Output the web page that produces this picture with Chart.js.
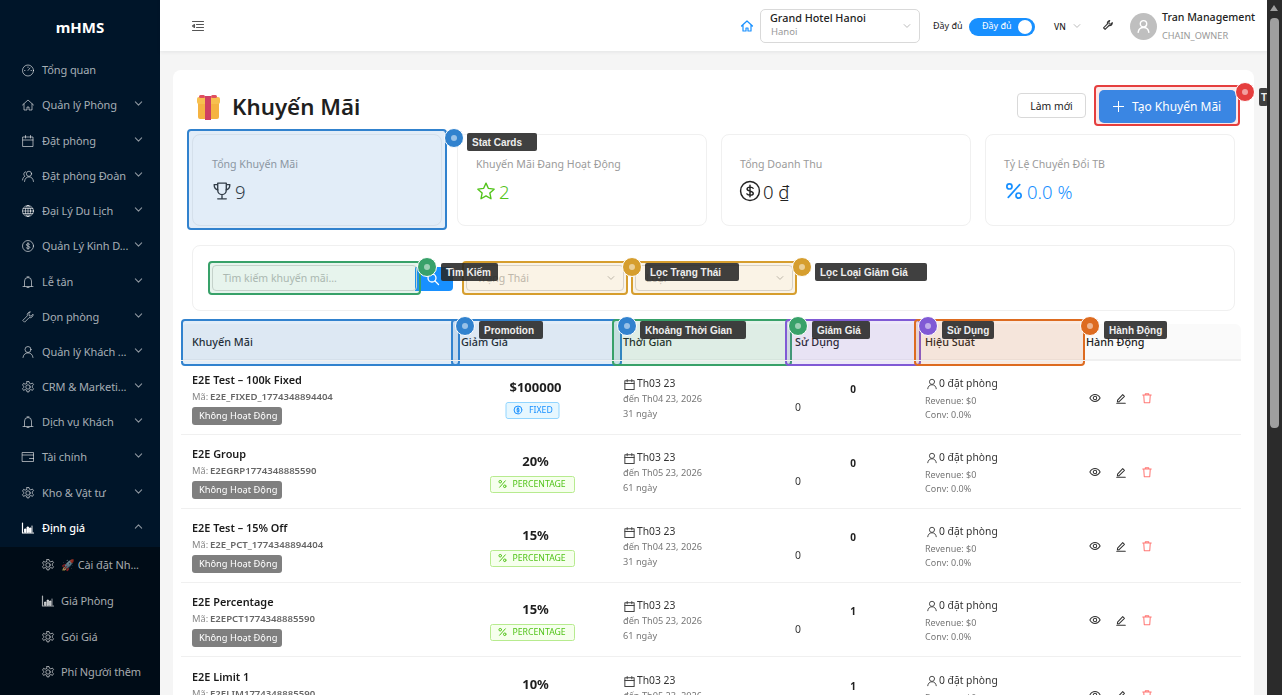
<!DOCTYPE html>
<html>
<head>
<meta charset="utf-8">
<title>Khuyến Mãi</title>
<script src="https://cdn.jsdelivr.net/npm/chart.js@4/dist/chart.umd.js"></script>
<style>
html,body{margin:0;padding:0;width:1282px;height:695px;overflow:hidden;background:#f5f5f5;font-family:"Noto Sans",sans-serif;color:#222}
div,span{position:absolute;box-sizing:border-box;white-space:nowrap}
svg{position:absolute;fill:none;stroke:currentColor;stroke-width:1.1;stroke-linecap:round;stroke-linejoin:round}
#side{left:0;top:0;width:160px;height:695px;background:#001529}
#sub{left:0;top:547px;width:160px;height:148px;background:#000c17}
.logo{left:0;width:160px;top:17px;text-align:center;color:#fff;font-weight:700;font-size:15px;line-height:20px}
.mi{font-size:11px;line-height:16px;letter-spacing:-.1px}
#head{left:160px;top:0;width:1108px;height:51px;background:#fff;box-shadow:0 1px 4px rgba(0,21,41,.08)}
#card{left:173px;top:70px;width:1081px;height:640px;background:#fff;border-radius:8px}
.stat{top:134px;width:250px;height:92px;background:#fff;border:1px solid #f0f0f0;border-radius:8px}
.sl{top:156px;font-size:10.6px;line-height:16px;color:#9a9a9a}
.sv{top:180px;font-size:18.5px;line-height:24px;font-weight:300}
.hl{border-radius:4px;border:2px solid}
.dot{width:20px;height:20px;border-radius:50%;border:1px solid #fff}
.dot::after{content:"";position:absolute;left:6px;top:6px;width:6px;height:6px;border-radius:50%;background:rgba(255,255,255,.5)}
.tip{height:18px;background:rgba(38,38,38,.88);border-radius:2px;color:#eee;font:700 10px/20px "Liberation Sans",sans-serif;padding-left:5px;overflow:hidden}
.th{top:335px;font-size:10.8px;line-height:14px;color:#222;font-weight:500}
.flt{top:265px;height:26px;border:1px solid #d9d9d9;border-radius:4px;font-size:10.5px;line-height:25px;padding-left:10px;color:#bbb}
</style>
</head>
<body>
<div id="side"><div id="sub"></div><div class="logo">mHMS</div></div>
<div id="head"></div>
<div id="card"></div>
<div id="page"></div>
<canvas id="table" width="1060" height="371" style="position:absolute;left:181px;top:360px"></canvas>
<script>
// sidebar
const menuLabels = ['Tổng quan','Quản lý Phòng','Đặt phòng','Đặt phòng Đoàn','Đại Lý Du Lịch','Quản Lý Kinh D...','Lễ tân','Dọn phòng','Quản lý Khách ...','CRM & Marketi...','Dịch vụ Khách','Tài chính','Kho & Vật tư','Định giá'];
const menuIcons = ['gauge','home','cal','team','globe','dollar','bell','tool','user','gear','bell','wallet','gear','chart'];
const subLabels = ['🚀 Cài đặt Nh...','Giá Phòng','Gói Giá','Phí Người thêm'];
const subIcons = ['gear','chart','gear','gear'];

// stat cards
const statLabels = ['Tổng Khuyến Mãi','Khuyến Mãi Đang Hoạt Động','Tổng Doanh Thu','Tỷ Lệ Chuyển Đổi TB'];
const statValues = ['9','2','0 ₫','0.0 %'];

// table
const columns = ['Khuyến Mãi','Giảm Giá','Thời Gian','Sử Dụng','Hiệu Suất','Hành Động'];
const promoNames = ['E2E Test – 100k Fixed','E2E Group','E2E Test – 15% Off','E2E Percentage','E2E Limit 1'];
const promoCodes = ['E2E_FIXED_1774348894404','E2EGRP1774348885590','E2E_PCT_1774348894404','E2EPCT1774348885590','E2ELIM1774348885590'];
const promoStatus = ['Không Hoạt Động','Không Hoạt Động','Không Hoạt Động','Không Hoạt Động','Không Hoạt Động'];
const discountLabels = ['$100000','20%','15%','15%','10%'];
const discountTypes = ['FIXED','PERCENTAGE','PERCENTAGE','PERCENTAGE','PERCENTAGE'];
const startDates = ['Th03 23','Th03 23','Th03 23','Th03 23','Th03 23'];
const endDates = ['Th04 23, 2026','Th05 23, 2026','Th04 23, 2026','Th05 23, 2026','Th05 23, 2026'];
const dayCounts = [31,61,31,61,61];
const usedCounts = [0,0,0,0,0];
const usageLimits = [0,0,0,1,1];
const bookings = [0,0,0,0,0];
const revenues = [0,0,0,0,0];
const convRates = [0,0,0,0,0];

const page = document.getElementById('page');
const I = {
 gauge:'<circle cx="7" cy="7.5" r="5.5"/><path d="M7 7.500l2-2.500M3.500 7.500h.5M10 7.500h.5M7 4v.5"/>',
 home:'<path d="M1.500 7L7 2l5.500 5M3 6v6h3V9h2v3h3V6"/>',
 cal:'<rect x="2" y="3" width="10" height="9.5"/><path d="M2 6h10M4.500 1.500V4M9.500 1.500V4"/>',
 team:'<circle cx="8" cy="4.800" r="2.600"/><path d="M3.500 12.500c.3-3 2-4.600 4.500-4.600s4.200 1.600 4.500 4.600M4.600 2.800A2.400 2.400 0 0 0 4 7.200C2.600 8 1.800 9 1.500 11"/>',
 globe:'<circle cx="7" cy="7" r="5.5"/><path d="M1.500 7h11M2.200 4.500h9.600M2.200 9.500h9.600M7 1.500v11"/><ellipse cx="7" cy="7" rx="2.600" ry="5.500"/>',
 dollar:'<circle cx="7" cy="7" r="5.5"/><path d="M8.800 5.400C8.400 4.600 5.400 4.300 5.300 5.800c0 1.600 3.600.9 3.600 2.600 0 1.400-3 1.200-3.700.3M7 3.600v6.800"/>',
 bell:'<path d="M3.500 11V6a3.500 3.500 0 0 1 7 0v5M2 11.500h10M6 1.800h2M6 12.500h2"/>',
 tool:'<path d="M9 1.800a3 3 0 0 0-2.600 4L1.800 10.400 3.600 12.200 8.200 7.600A3 3 0 0 0 12 4.200L10.200 6 8.200 5.800 8 3.800z"/>',
 user:'<circle cx="7" cy="4.500" r="3"/><path d="M2 12.500c.4-3 2.400-4.600 5-4.600s4.600 1.600 5 4.600"/>',
 gear:'<circle cx="7" cy="7" r="2.200"/><path d="M6 1.500h2l.4 1.700 1.500.7 1.500-.9 1.100 1.700-1.200 1.200v1.600l1.200 1.200-1.100 1.700-1.500-.9-1.500.7-.4 1.700H6l-.4-1.700-1.500-.7-1.500.9-1.100-1.700 1.200-1.200V6.200L1.500 5l1.100-1.700 1.500.9 1.500-.7z"/>',
 wallet:'<rect x="1.500" y="2.500" width="11" height="9"/><path d="M1.500 5h11M8.500 8.500h4"/>',
 chart:'<path d="M1.500 2v10h11" stroke-width="1.200"/><path d="M3.500 11V8h1.500v3zM6 11V6h1.500v5zM8.500 11V7H10v4zM11 11V5" fill="currentColor"/>',
 chev:'<path d="M3 5l4 4 4-4" stroke-width="1.400"/>',
 chevUp:'<path d="M3 9l4-4 4 4" stroke-width="1.400"/>',
 trophy:'<path d="M4 1.500h6v5a3 3 0 0 1-6 0zM4 2.500H1.500c0 2 .8 3.500 2.800 3.800M10 2.500h2.500c0 2-.8 3.500-2.800 3.800M7 9.500v3M4 12.500h6"/>',
 star:'<path d="M7 1.500l1.700 3.700 4 .5-3 2.700.8 4L7 10.400l-3.500 2 .8-4-3-2.700 4-.5z"/>',
 pct:'<path d="M11 2.500L3 11.500"/><circle cx="3.800" cy="3.800" r="1.800"/><circle cx="10.200" cy="10.200" r="1.800"/>',
 menu:'<path d="M1.500 2.500h11M5.500 5.500h7M5.500 8.500h7M1.500 11.500h11"/><path d="M3.500 5.500L1.500 7l2 1.500z"/>',
 search:'<circle cx="6" cy="6" r="4"/><path d="M9 9l3.500 3.500"/>',
 eye:'<path d="M1 7c1.500-2.700 3.500-4 6-4s4.500 1.300 6 4c-1.500 2.700-3.500 4-6 4s-4.500-1.300-6-4z"/><circle cx="7" cy="7" r="2"/>',
 pen:'<path d="M3 9.500L9 3l2 2-6.200 6.300-2 .2zM2 13h10"/>',
 trash:'<path d="M2 3.500h10M5 3.500V2h4v1.500M3.200 3.500l.6 9h6.400l.6-9"/>',
};
function icon(name,x,y,size,color,sw){
 const s=document.createElementNS('http://www.w3.org/2000/svg','svg');
 s.setAttribute('viewBox','0 0 14 14');s.setAttribute('width',size);s.setAttribute('height',size);
 s.style.left=x+'px';s.style.top=y+'px';s.style.color=color;if(sw)s.style.strokeWidth=sw;
 s.innerHTML=I[name];page.appendChild(s);
}
function box(cls,style,text){
 const d=document.createElement('div');d.className=cls;d.style.cssText=style;if(text)d.textContent=text;page.appendChild(d);return d;
}
const sideColor='rgba(255,255,255,.66)';
const menuY=[70,105,141,176,211,246,282,317,352,387,422,457,493,528];
menuLabels.forEach((t,i)=>{
 const active=t==='Định giá';
 const c=active?'#fff':sideColor;
 icon(menuIcons[i],21,menuY[i]-7,14,c,.9);
 box('mi',`left:42px;top:${menuY[i]-8}px;color:${c};`+(active?'font-weight:500;':''),t);
 if(i>0)icon(active?'chevUp':'chev',133,menuY[i]-7,11,'rgba(255,255,255,.55)');
});
const subY=[565,601,637,672];
subLabels.forEach((t,i)=>{
 icon(subIcons[i],41,subY[i]-7,14,sideColor,.9);
 box('mi',`left:61px;top:${subY[i]-8}px;color:${sideColor};`,t);
});

// header
icon('menu',191,19,14,'#555');
icon('home',740,19,14,'#1890ff',1.2);
box('', 'left:760px;top:9px;width:160px;height:34px;background:#fff;border:1px solid #d9d9d9;border-radius:5px');
box('', 'left:770px;top:10px;font-size:10.8px;line-height:16px;font-weight:500','Grand Hotel Hanoi');
box('', 'left:771px;top:25px;font-size:9.5px;line-height:13px;color:#999','Hanoi');
icon('chev',902,21,10,'#bbb');
box('', 'left:933px;top:19px;font-size:9px;line-height:14px','Đầy đủ');
box('', 'left:969px;top:18px;width:66px;height:18px;background:#1890ff;border-radius:9px');
box('', 'left:982px;top:19px;font-size:9px;line-height:14px;color:#fff','Đầy đủ');
box('', 'left:1018px;top:20px;width:14px;height:14px;background:#fff;border-radius:50%');
box('', 'left:1054px;top:21px;font-size:8.5px;line-height:12px;font-weight:500','VN');
icon('chev',1072,21,10,'#bbb');
icon('tool',1102,19,12,'#333',1.3);
box('', 'left:1130px;top:13px;width:27px;height:27px;background:#bfbfbf;border-radius:50%');
icon('user',1136,19,15,'#fff',1.3);
box('', 'left:1162px;top:9px;font-size:10.6px;line-height:16px;font-weight:500','Tran Management');
box('', 'left:1162px;top:29px;font-size:9.2px;line-height:13px;color:#999','CHAIN_OWNER');

// title + gift
box('', 'left:232px;top:90px;font-size:22.3px;line-height:33px;font-weight:600;color:#1f1f1f','Khuyến Mãi');
box('', 'left:198px;top:99px;width:21px;height:20px;background:#f5b342;border-radius:2px');
box('', 'left:197px;top:97px;width:23px;height:7px;background:#f7c04f;border-radius:2px');
box('', 'left:205px;top:96px;width:6px;height:24px;background:#cf3f63');
box('', 'left:199px;top:95px;width:6px;height:3px;background:#e04f5f;border-radius:2px');
box('', 'left:211px;top:95px;width:6px;height:3px;background:#e04f5f;border-radius:2px');

// top buttons
box('', 'left:1017px;top:93px;width:69px;height:25px;border:1px solid #d9d9d9;border-radius:4px;font-size:10.4px;line-height:24px;text-align:center','Làm mới');
box('hl', 'left:1094px;top:85px;width:146px;height:41px;border-color:#e53e3e;background:rgba(229,62,62,.12)');
box('', 'left:1099px;top:90px;width:137px;height:33px;background:#3a86e3;border-radius:5px;color:#fff;font-size:12px;line-height:33px;padding-left:33px','Tạo Khuyến Mãi');
box('', 'left:1113px;top:106px;width:11px;height:1px;background:#fff');
box('', 'left:1118px;top:101px;width:1px;height:11px;background:#fff');

// stat cards
const statX=[192,457,721,985],statTextX=[192,456,720,984],statColor=['#333','#52c41a','#222','#1890ff'];
statLabels.forEach((t,i)=>{
 box('stat',`left:${statX[i]}px;`);
 box('sl',`left:${statTextX[i]+20}px;`,t);
 box('sv',`left:${statTextX[i]+43}px;color:${statColor[i]};`,statValues[i]);
});
icon('trophy',212,181,20,'#333',.95);
icon('star',476,181,20,'#52c41a',.95);
icon('dollar',738,179,24,'#222',.85);
icon('pct',1004,181,20,'#1890ff',1.2);
box('hl','left:187px;top:129px;width:260px;height:101px;border-color:#3182ce;background:rgba(49,130,206,.14)');

// filters
box('', 'left:192px;top:245px;width:1043px;height:66px;background:#fff;border:1px solid #f0f0f0;border-radius:8px');
box('', 'left:415px;top:267px;width:38px;height:24px;background:#1890ff;border-radius:0 4px 4px 0');
icon('search',426,272,14,'#fff',1.3);
box('flt','left:212px;width:205px;','Tìm kiếm khuyến mãi...');
box('flt','left:466px;width:158px;','Trạng Thái');
box('flt','left:635px;width:158px;','Loại');
icon('chev',606,273,10,'#bbb');
icon('chev',775,273,10,'#bbb');
box('hl','left:208px;top:261px;width:213px;height:34px;border-color:#38a169;background:rgba(56,161,105,.12)');
box('hl','left:462px;top:261px;width:166px;height:34px;border-color:#d69e2e;background:rgba(214,158,46,.12)');
box('hl','left:631px;top:261px;width:166px;height:34px;border-color:#d69e2e;background:rgba(214,158,46,.12)');

// table head
box('', 'left:181px;top:324px;width:1060px;height:36px;background:#fafafa;border-bottom:1px solid #f0f0f0;border-radius:6px 6px 0 0');
const headX=[192,461,623,795,925,1086];
columns.forEach((t,i)=>box('th',`left:${headX[i]}px;`,t));
box('hl','left:181px;top:319px;width:279px;height:47px;border-color:#3182ce;background:rgba(49,130,206,.14)');
box('hl','left:451px;top:319px;width:171px;height:47px;border-color:#3182ce;background:rgba(49,130,206,.14)');
box('hl','left:612px;top:319px;width:180px;height:47px;border-color:#38a169;background:rgba(56,161,105,.14)');
box('hl','left:785px;top:319px;width:136px;height:47px;border-color:#805ad5;background:rgba(128,90,213,.14)');
box('hl','left:914px;top:319px;width:171px;height:47px;border-color:#dd6b20;background:rgba(221,107,32,.14)');

// annotation tips
const tips=[
 ['Stat Cards',467,133,70,454,138,'#3182ce'],
 ['Tìm Kiếm',441,263,57,427,267,'#38a169'],
 ['Lọc Trạng Thái',645,263,94,632,267,'#d69e2e'],
 ['Lọc Loại Giảm Giá',815,263,112,802,267,'#d69e2e'],
 ['Promotion',479,321,64,465,326,'#3182ce'],
 ['Khoảng Thời Gian',640,321,106,627,326,'#3182ce'],
 ['Giảm Giá',812,321,58,798,326,'#38a169'],
 ['Sử Dụng',942,321,52,928,326,'#805ad5'],
 ['Hành Động',1104,321,63,1090,326,'#dd6b20'],
];
tips.forEach(t=>{
 box('tip',`left:${t[1]}px;top:${t[2]}px;width:${t[3]}px;`,t[0]);
 box('dot',`left:${t[4]-10}px;top:${t[5]-10}px;background:${t[6]};`);
});
box('dot','left:1235px;top:82px;background:#e53e3e;');
box('tip','left:1259px;top:88px;width:9px;padding-left:2px;','T');

// scrollbar
box('','left:1267px;top:0;width:15px;height:695px;background:#2b2b2b');
box('','left:1270px;top:18px;width:9px;height:410px;background:#9f9f9f;border-radius:4px');
box('','left:1270px;top:5px;width:0;height:0;border-left:4.5px solid transparent;border-right:4.5px solid transparent;border-bottom:6px solid #9f9f9f');

// promo table drawn through the chart's scales
function txt(ctx,s,x,y,font,color,align){
 ctx.font=font;ctx.fillStyle=color;ctx.textAlign=align||'left';ctx.textBaseline='middle';ctx.fillText(s,x,y);
}
function roundBox(ctx,x,y,w,h,r,fill,stroke){
 ctx.beginPath();ctx.roundRect(x,y,w,h,r);
 if(fill){ctx.fillStyle=fill;ctx.fill();}
 if(stroke){ctx.strokeStyle=stroke;ctx.lineWidth=1;ctx.stroke();}
}
function strokeIcon(ctx,name,x,y,size,color,lw){
 const tmp=document.createElementNS('http://www.w3.org/2000/svg','svg');tmp.innerHTML=I[name];
 ctx.save();ctx.translate(x,y);ctx.scale(size/14,size/14);ctx.strokeStyle=color;ctx.lineWidth=lw||1.1;ctx.lineCap='round';ctx.lineJoin='round';
 tmp.querySelectorAll('path').forEach(p=>ctx.stroke(new Path2D(p.getAttribute('d'))));
 tmp.querySelectorAll('circle').forEach(c=>{ctx.beginPath();ctx.arc(+c.getAttribute('cx'),+c.getAttribute('cy'),+c.getAttribute('r'),0,7);ctx.stroke();});
 tmp.querySelectorAll('rect').forEach(r=>{ctx.strokeRect(+r.getAttribute('x'),+r.getAttribute('y'),+r.getAttribute('width'),+r.getAttribute('height'));});
 ctx.restore();
}
const F='"Noto Sans",sans-serif';
const cellPlugin={
 id:'cells',
 afterDatasetsDraw(chart){
  const ctx=chart.ctx;
  const at=(ds,i)=>{
   const el=chart.getDatasetMeta(ds).data[i];
   return {x:el.x,y:Math.round(el.y+.6)};
  };
  ctx.save();
  promoNames.forEach((name,i)=>{
   let p=at(0,i);
   txt(ctx,name,p.x,p.y-17,'600 10.9px '+F,'#1a1a1a');
   txt(ctx,'Mã:',p.x,p.y-1,'9.4px '+F,'#888');
   txt(ctx,promoCodes[i],p.x+18,p.y-1,'600 9.6px '+F,'#666');
   roundBox(ctx,p.x,p.y+9,90,18,3,'#7f7f7f');
   txt(ctx,promoStatus[i],p.x+7,p.y+18,'9.3px '+F,'#fff');

   p=at(1,i);
   txt(ctx,discountLabels[i],p.x+.5,p.y-10,'700 13px '+F,'#1f1f1f','center');
   const fixed=discountTypes[i]==='FIXED',w=fixed?53:84;
   const left=p.x-w/2-2.5;
   roundBox(ctx,left,p.y+4.5,w,16,2,fixed?'#e6f7ff':'#f6ffed',fixed?'#91d5ff':'#b7eb8f');
   const c=fixed?'#1890ff':'#52c41a';
   strokeIcon(ctx,fixed?'dollar':'pct',left+7,p.y+7,10,c,1.4);
   txt(ctx,discountTypes[i],left+(fixed?23:22),p.y+13,'8.7px '+F,c);

   p=at(2,i);
   strokeIcon(ctx,'cal',p.x,p.y-20,13,'#444',1.1);
   txt(ctx,startDates[i],p.x+14,p.y-14,'10.3px '+F,'#333');
   txt(ctx,'đến '+endDates[i],p.x,p.y+1,'9.2px '+F,'#777');
   txt(ctx,dayCounts[i]+' ngày',p.x,p.y+16,'9.2px '+F,'#777');

   p=at(3,i);
   txt(ctx,String(usedCounts[i]),p.x,p.y+10,'10.4px '+F,'#333','center');
   p=at(4,i);
   txt(ctx,String(usageLimits[i]),p.x,p.y-8,'700 10px '+F,'#222','center');

   p=at(5,i);
   strokeIcon(ctx,'user',p.x,p.y-20,12,'#444',1.1);
   txt(ctx,bookings[i]+' đặt phòng',p.x+13,p.y-14,'10.3px '+F,'#333');
   txt(ctx,'Revenue: $'+revenues[i],p.x-1,p.y+3,'9px '+F,'#777');
   txt(ctx,'Conv: '+convRates[i].toFixed(1)+'%',p.x-1,p.y+17,'9px '+F,'#777');

   p=at(6,i);
   strokeIcon(ctx,'eye',p.x+2,p.y-6,12,'#333',1.2);
   strokeIcon(ctx,'pen',p.x+28,p.y-6,12,'#333',1.2);
   strokeIcon(ctx,'trash',p.x+54,p.y-6,12,'#ff7875',1.2);
  });
  ctx.restore();
 }
};
// x axis runs in table pixels, one dataset per column
const cellX={promo:11,discount:354,period:442,used:617,limit:672,perf:745,actions:906};
const columnData=(values,x)=>({data:values.map((v,i)=>({x,y:promoNames[i]})),pointRadius:0,showLine:false});
new Chart(document.getElementById('table'),{
 type:'scatter',
 data:{datasets:[
  columnData(promoCodes,cellX.promo),
  columnData(discountLabels,cellX.discount),
  columnData(dayCounts,cellX.period),
  columnData(usedCounts,cellX.used),
  columnData(usageLimits,cellX.limit),
  columnData(bookings,cellX.perf),
  columnData(promoNames,cellX.actions),
 ]},
 options:{
  responsive:false,animation:false,devicePixelRatio:1,
  layout:{padding:0},
  plugins:{legend:{display:false},tooltip:{enabled:false}},
  scales:{
   x:{type:'linear',min:0,max:1060,display:false},
   y:{type:'category',labels:promoNames,offset:true,afterFit(a){a.width=0},
      ticks:{display:false},border:{display:false},
      grid:{offset:true,color:'#f0f0f0',drawTicks:false}}
  }
 },
 plugins:[cellPlugin]
});
</script>
</body>
</html>
